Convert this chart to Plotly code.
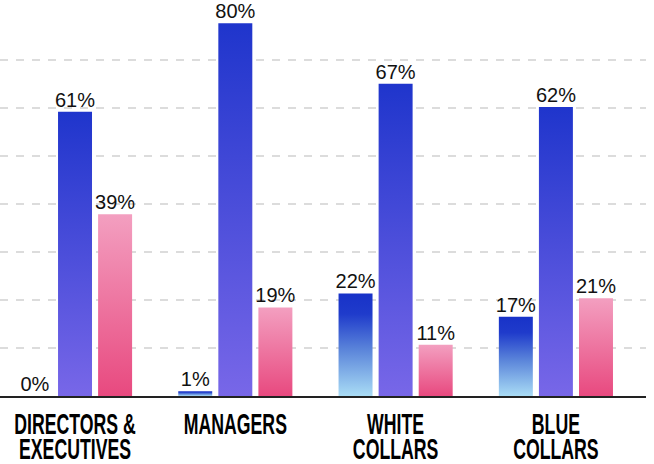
import plotly.graph_objects as go

# Workforce shares by job level (percent)
categories = ["DIRECTORS &<br>EXECUTIVES", "MANAGERS", "WHITE<br>COLLARS", "BLUE<br>COLLARS"]
share_first = [0, 1, 22, 17]
share_second = [61, 80, 67, 62]
share_third = [39, 19, 11, 21]

series = [
    (share_first, -0.25,
     [[0, "#a9dcf5"], [0.45, "#5b85da"], [0.8, "#1f3bcb"], [1, "#1832c8"]]),
    (share_second, 0.0,
     [[0, "#7867e8"], [1, "#1f35cc"]]),
    (share_third, 0.25,
     [[0, "#e8497f"], [1, "#f39fc0"]]),
]
bar_width = 0.212
grid_step = 10.3

fig = go.Figure()

for values, offset, scale in series:
    for i, v in enumerate(values):
        x0 = i + offset - bar_width / 2
        x1 = i + offset + bar_width / 2
        trace = dict(
            x=[x0, x1, x1, x0, x0],
            y=[0, 0, v, v, 0],
            mode="lines",
            line=dict(width=0),
            fill="toself",
            hoverinfo="skip",
            showlegend=False,
        )
        if v > 0:
            trace["fillgradient"] = dict(type="vertical", colorscale=scale, start=0, stop=v)
        else:
            trace["fillcolor"] = scale[-1][1]
        fig.add_trace(go.Scatter(**trace))

    fig.add_trace(go.Scatter(
        x=[i + offset for i in range(len(values))],
        y=values,
        mode="text",
        text=[f"{v}%" for v in values],
        textposition="top center",
        textfont=dict(family="Liberation Sans", size=20, color="#111111"),
        hoverinfo="skip",
        showlegend=False,
        cliponaxis=False,
    ))

fig.update_layout(
    width=654,
    height=464,
    margin=dict(l=0, r=8, t=0, b=68),
    plot_bgcolor="white",
    paper_bgcolor="white",
    xaxis=dict(
        range=[-0.468, 3.562],
        tickvals=list(range(len(categories))),
        ticktext=categories,
        tickfont=dict(family="Liberation Sans", size=17.7, color="#000000", weight="bold"),
        ticklabeloverflow="allow",
        showgrid=False,
        zeroline=False,
        showline=True,
        linecolor="#222222",
        linewidth=1.5,
        ticks="",
        fixedrange=True,
    ),
    yaxis=dict(
        range=[0, 84.98],
        tickvals=[grid_step * k for k in range(1, 8)],
        showticklabels=False,
        showgrid=True,
        gridcolor="#dcdcdc",
        gridwidth=1.5,
        griddash="8px,8px",
        zeroline=False,
        fixedrange=True,
    ),
)

# Tall, condensed category labels: stretch the tick text vertically and
# tighten the spacing between its two lines.
label_script = """
var gd = document.getElementById('{plot_id}');
var stretch = 1.66, lineGap = 0.86, baseline = 434;
gd.querySelectorAll('.xtick text').forEach(function (t) {
  t.querySelectorAll('tspan.line').forEach(function (s) {
    var dy = parseFloat(s.getAttribute('dy') || '0');
    if (dy > 0) { s.setAttribute('dy', (dy / 1.3 * lineGap) + 'em'); }
  });
  var y0 = parseFloat(t.getAttribute('y') || '0');
  var tr = t.getAttribute('transform') || '';
  t.setAttribute('transform', tr + ' translate(0,' + baseline + ') scale(1,' + stretch + ') translate(0,' + (-y0) + ')');
});
"""

fig.write_html("out.html", post_script=label_script)
